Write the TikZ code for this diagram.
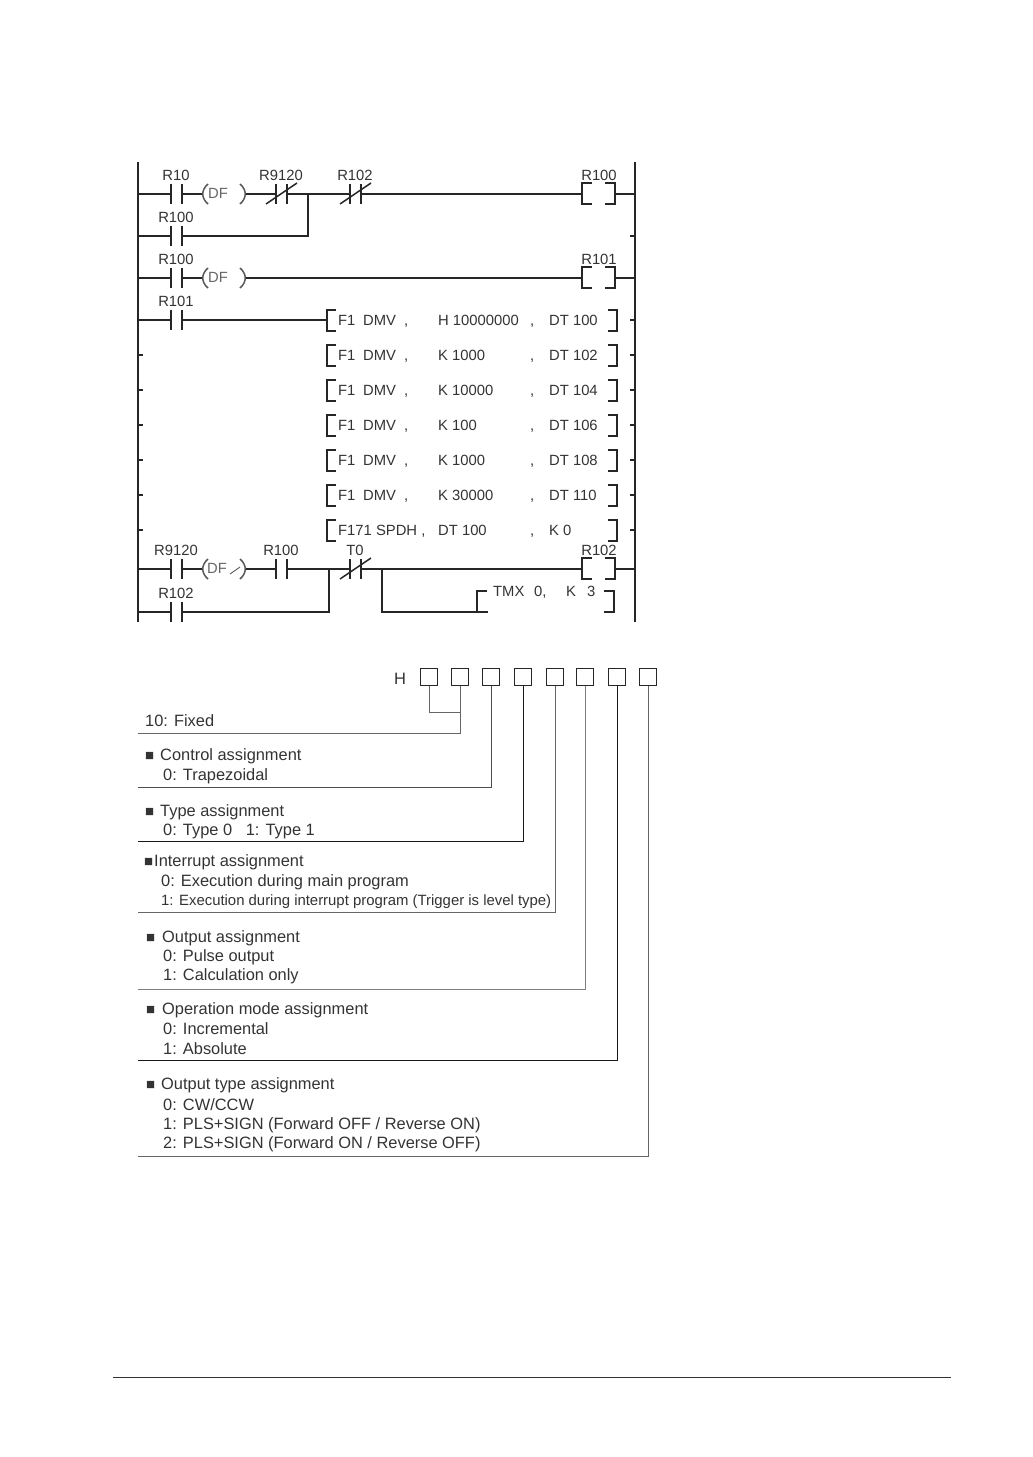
\documentclass[tikz,border=0pt]{standalone}
\usepackage{fontspec}
\setmainfont{Liberation Sans}
\newcommand{\contact}[4]{%
  \coordinate (#1-l) at (#2,#3);
  \coordinate (#1-r) at (#2+11,#3);
  \draw[wire] (#2,#3-10)--(#2,#3+10) (#2+11,#3-10)--(#2+11,#3+10);
  \node[lad] (#1-t) at (#2+5,#3-19){#4};
}
\newcommand{\slashed}[2]{\draw[wire] (#1-10,#2+10)--(#1+21,#2-11);}
\newcommand{\coil}[3]{%
  \coordinate (#1-l) at (582,#2);
  \coordinate (#1-r) at (615,#2);
  \draw[wire] (592,#2-11)--(582,#2-11)--(582,#2+10)--(592,#2+10);
  \draw[wire] (605,#2-11)--(615,#2-11)--(615,#2+10)--(605,#2+10);
  \node[lad] (#1-t) at (599,#2-19){#3};
}
\newcommand{\dfbox}[3]{%
  \coordinate (#1-l) at (202,#2);
  \coordinate (#1-r) at (246,#2);
  \draw[wire,draw=black!65] (208,#2-10) .. controls (201,#2-4) and (201,#2+4) .. (208,#2+10);
  \draw[wire,draw=black!65] (240,#2-10) .. controls (247,#2-4) and (247,#2+4) .. (240,#2+10);
  \node[lad,text=black!60] (#1-t) at (#3,#2-1){DF};
}
\newcommand{\sq}[1]{\makebox[#1][l]{\fontsize{15}{15}\selectfont ■}}
\begin{document}
\begin{tikzpicture}[x=1pt,y=-1pt,
  wire/.style={line width=1.5pt,draw=black!85},
  lad/.style={inner sep=0pt,text height=10.5pt,text depth=0pt,text=black!80,font=\fontsize{14.8}{17}\selectfont},
  fn/.style={lad,anchor=west},
  desc/.style={inner sep=0pt,text height=11.5pt,text depth=0pt,anchor=west,text=black!80,font=\fontsize{16.4}{18}\selectfont},
  box/.style={draw=black!85,line width=1.6pt,minimum size=17pt,inner sep=0pt},
  lead/.style={line width=1pt,draw=black!60}]
  \useasboundingbox (0,0) rectangle (1033,1457);
  % rails
  \coordinate (lt) at (138,162);
  \coordinate (lb) at (138,622);
  \coordinate (rt) at (635,162);
  \coordinate (rb) at (635,622);
  \draw[wire] (lt)--(lb);
  \draw[line width=1.2pt,draw=black!85] (rt)--(rb);
  % rung R100
  \contact{a}{171}{194}{R10}
  \dfbox{adf}{194}{218}
  \contact{b}{276}{194}{R9120}
  \slashed{276}{194}
  \contact{c}{350}{194}{R102}
  \slashed{350}{194}
  \coil{q0}{194}{R100}
  \contact{d}{171}{236}{R100}
  \coordinate (dj) at (308,194);
  \draw[wire] (lt|-a-l)--(a-l) (a-r)--(adf-l) (adf-r)--(b-l) (b-r)--(c-l) (c-r)--(q0-l);
  \draw[wire] (q0-r)--(rt|-q0-r);
  \draw[wire] (lt|-d-l)--(d-l) (d-r)-|(dj);
  \draw[wire] (630,236)--(635,236);
  % rung R101
  \contact{e}{171}{278}{R100}
  \dfbox{edf}{278}{218}
  \coil{q1}{278}{R101}
  \draw[wire] (lt|-e-l)--(e-l) (e-r)--(edf-l) (edf-r)--(q1-l);
  \draw[wire] (q1-r)--(rt|-q1-r);
  % rung F1 and its instructions
  \contact{f}{171}{320}{R101}
  \coordinate (fb) at (327,320);
  \draw[wire] (lt|-f-l)--(f-l) (f-r)--(fb);
  \foreach \i/\y/\val/\dst in {0/320/H 10000000/DT 100,1/355/K 1000/DT 102,2/390/K 10000/DT 104,3/425/K 100/DT 106,4/460/K 1000/DT 108,5/495/K 30000/DT 110}{
    \node[fn] (g\i) at (338,\y){F1};
    \node[fn] (m\i) at (363,\y){DMV};
    \node[fn] (s\i) at (404,\y){,};
    \node[fn] (v\i) at (438,\y){\val};
    \node[fn] (c\i) at (530,\y){,};
    \node[fn] (d\i) at (549,\y){\dst};
  }
  \node[fn] (g6) at (338,530){F171 SPDH ,};
  \node[fn] (v6) at (438,530){DT 100};
  \node[fn] (c6) at (530,530){,};
  \node[fn] (d6) at (549,530){K 0};
  \foreach \y in {320,355,...,530}{
    \draw[wire] (336,\y-10)--(327,\y-10)--(327,\y+11)--(336,\y+11);
    \draw[wire] (608,\y-10)--(617,\y-10)--(617,\y+11)--(608,\y+11);
    \draw[wire] (630,\y)--(635,\y);
  }
  \foreach \y in {355,390,...,530}
    \draw[wire] (138,\y)--(143,\y);
  % rung R102
  \contact{h}{171}{569}{R9120}
  \dfbox{hdf}{569}{217}
  \draw[line width=0.9pt,draw=black!65] (230,574)--(240,567);
  \contact{i}{276}{569}{R100}
  \contact{k}{350}{569}{T0}
  \slashed{350}{569}
  \coil{q2}{569}{R102}
  \contact{l}{171}{612}{R102}
  \coordinate (lj) at (329,569);
  \coordinate (tj) at (382,569);
  \coordinate (tl) at (477,612);
  \draw[wire] (lt|-h-l)--(h-l) (h-r)--(hdf-l) (hdf-r)--(i-l) (i-r)--(k-l) (k-r)--(q2-l);
  \draw[wire] (q2-r)--(rt|-q2-r);
  \draw[wire] (lt|-l-l)--(l-l) (l-r)-|(lj);
  \draw[wire] (tj)|-(tl);
  % timer
  \draw[wire] (487,591)--(477,591)--(477,612)--(488,612);
  \draw[wire] (604,591)--(614,591)--(614,612)--(604,612);
  \node[fn] (tmx) at (493,591){TMX};
  \node[fn] (tm0) at (534,591){0,};
  \node[fn] (tmk) at (566,591){K};
  \node[fn] (tm3) at (587,591){3};
  % code boxes
  \node[anchor=west,lad,font=\fontsize{16.5}{18}\selectfont,text height=12pt] (hh) at (394,678){H};
  \foreach \i/\x in {1/429,2/460,3/491,4/523,5/555,6/585,7/617,8/648}
    \node[box] (b\i) at (\x,677){};
  \coordinate (j12) at (460,712);
  \coordinate (e2) at (138,733);
  \draw[lead] (b1.south)|-(j12);
  \draw[lead] (b2.south)|-(e2);
  \foreach \i/\y/\shade in {3/787/70,4/841/90,5/912/60,6/989/50,7/1060/90,8/1156/60}{
    \coordinate (e\i) at (138,\y);
    \draw[lead,draw=black!\shade] (b\i.south)|-(e\i);
  }
  % assignment texts
  \node[desc] (t1) at (145,721){10: Fixed};
  \node[desc] (t2) at (145,755){\sq{15pt}Control assignment};
  \node[desc] (t3) at (163,775){0: Trapezoidal};
  \node[desc] (t4) at (145,811){\sq{15pt}Type assignment};
  \node[desc] (t5) at (163,830){0: Type 0\ \ \ 1: Type 1};
  \node[desc] (t6) at (144,861){\sq{10pt}Interrupt assignment};
  \node[desc] (t7) at (161,881){0: Execution during main program};
  \node[desc,font=\fontsize{14.9}{17}\selectfont] (t8) at (161,900){1: Execution during interrupt program (Trigger is level type)};
  \node[desc] (t9) at (146,937){\sq{16pt}Output assignment};
  \node[desc] (t10) at (163,956){0: Pulse output};
  \node[desc] (t11) at (163,975){1: Calculation only};
  \node[desc] (t12) at (146,1009){\sq{16pt}Operation mode assignment};
  \node[desc] (t13) at (163,1029){0: Incremental};
  \node[desc] (t14) at (163,1049){1: Absolute};
  \node[desc] (t15) at (146,1084){\sq{15pt}Output type assignment};
  \node[desc] (t16) at (163,1105){0: CW/CCW};
  \node[desc] (t17) at (163,1124){1: PLS+SIGN (Forward OFF / Reverse ON)};
  \node[desc] (t18) at (163,1143){2: PLS+SIGN (Forward ON / Reverse OFF)};
  % page rule
  \coordinate (ra) at (113,1377);
  \coordinate (rz) at (951,1377);
  \draw[line width=1pt,draw=black!80] (ra)--(rz);
\end{tikzpicture}
\end{document}
